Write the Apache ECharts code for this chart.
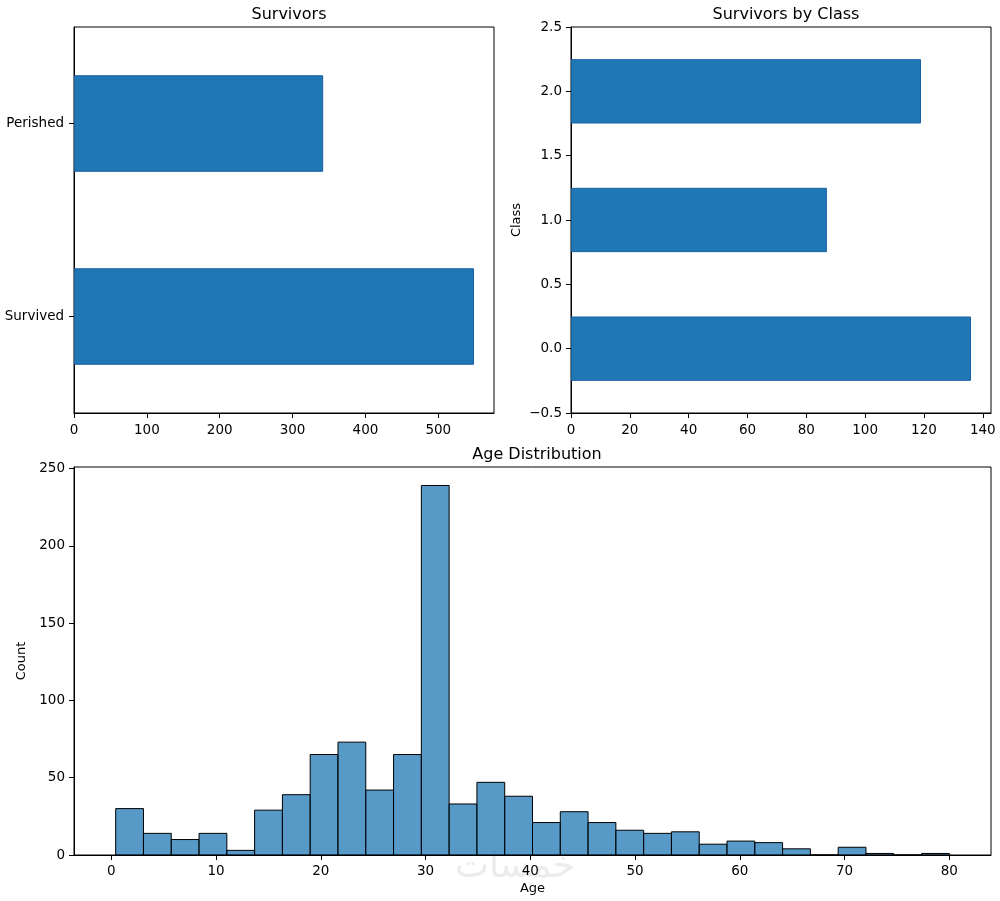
<!DOCTYPE html>
<html>
<head>
<meta charset="utf-8">
<script src="https://cdn.jsdelivr.net/npm/echarts@6/dist/echarts.min.js"></script>
<style>
html,body{margin:0;padding:0;background:#fff;}
#chart{width:1000px;height:901px;}
</style>
</head>
<body>
<div id="chart"></div>
<script>
// ---- data ----
const survivalLabels = ['Survived', 'Perished'];
const survivalCounts = [549, 342];
const classLabels = ['0', '1', '2'];
const classSurvivors = [136, 87, 119];
const ageCounts = [30, 14, 10, 14, 3, 29, 39, 65, 73, 42, 65, 239, 33, 47, 38,
                   21, 28, 21, 16, 14, 15, 7, 9, 8, 4, 0, 5, 1, 0, 1];
const ageMin = 0.42;
const ageMax = 80;
// ---- tick labels ----
const survivalXTicks = [0, 100, 200, 300, 400, 500];
const classXTicks = [0, 20, 40, 60, 80, 100, 120, 140];
const classYTicks = [-0.5, 0, 0.5, 1, 1.5, 2, 2.5];
const ageXTicks = [0, 10, 20, 30, 40, 50, 60, 70, 80];
const countYTicks = [0, 50, 100, 150, 200, 250];

const FONT = 'DejaVu Sans';
const binW = (ageMax - ageMin) / ageCounts.length;
const histData = ageCounts.map((c, i) => [ageMin + i * binW, ageMin + (i + 1) * binW, c]);
const ageSpan = ageMax - ageMin;

const chart = echarts.init(document.getElementById('chart'));
const lbl = {color: '#000', fontFamily: FONT, fontSize: 13.5};
const tick = {show: true, inside: false, length: 5, lineStyle: {color: '#000', width: 1}};
const line = {show: true, onZero: false, lineStyle: {color: '#000', width: 1}};
const fmtNum = v => (v < 0 ? '\u2212' + Math.abs(v) : '' + v);
const gridBase = {show: true, borderColor: '#000', borderWidth: 1, containLabel: false, outerBoundsMode: 'none'};
const nameStyle = {fontFamily: FONT, fontSize: 13, color: '#000'};

const option = {
  animation: false,
  backgroundColor: '#fff',
  textStyle: {fontFamily: FONT},
  title: [
    {text: 'Survivors', left: 284, top: 2, textAlign: 'center', textStyle: {fontFamily: FONT, fontSize: 16, fontWeight: 'normal', color: '#000'}},
    {text: 'Survivors by Class', left: 781, top: 2, textAlign: 'center', textStyle: {fontFamily: FONT, fontSize: 16, fontWeight: 'normal', color: '#000'}},
    {text: 'Age Distribution', left: 532, top: 442, textAlign: 'center', textStyle: {fontFamily: FONT, fontSize: 16, fontWeight: 'normal', color: '#000'}}
  ],
  grid: [
    Object.assign({left: 74, top: 27, width: 420, height: 386}, gridBase),
    Object.assign({left: 571, top: 27, width: 420, height: 386}, gridBase),
    Object.assign({left: 74, top: 467, width: 917, height: 388}, gridBase)
  ],
  xAxis: [
    {gridIndex: 0, type: 'value', position: 'bottom', min: 0, max: Math.max(...survivalCounts) * 1.05,
     axisLine: line, axisTick: Object.assign({customValues: survivalXTicks}, tick),
     axisLabel: Object.assign({customValues: survivalXTicks, margin: 10}, lbl), splitLine: {show: false}},
    {gridIndex: 1, type: 'value', position: 'bottom', min: 0, max: Math.max(...classSurvivors) * 1.05,
     axisLine: line, axisTick: Object.assign({customValues: classXTicks}, tick),
     axisLabel: Object.assign({customValues: classXTicks, margin: 10}, lbl), splitLine: {show: false}},
    {gridIndex: 2, type: 'value', position: 'bottom', min: ageMin - 0.05 * ageSpan, max: ageMax + 0.05 * ageSpan,
     name: 'Age', nameLocation: 'middle', nameGap: 27, nameTextStyle: nameStyle,
     axisLine: line, axisTick: Object.assign({customValues: ageXTicks}, tick),
     axisLabel: Object.assign({customValues: ageXTicks, margin: 9}, lbl), splitLine: {show: false}}
  ],
  yAxis: [
    {gridIndex: 0, type: 'category', position: 'left', data: survivalLabels,
     axisLine: line, axisTick: Object.assign({alignWithLabel: true}, tick),
     axisLabel: Object.assign({margin: 10}, lbl), splitLine: {show: false}},
    {gridIndex: 1, type: 'category', position: 'right', data: classLabels, show: false},
    {gridIndex: 1, type: 'value', position: 'left', min: -0.5, max: 2.5, interval: 0.5,
     name: 'Class', nameLocation: 'middle', nameGap: 48, nameTextStyle: nameStyle,
     axisLine: line, axisTick: Object.assign({customValues: classYTicks}, tick),
     axisLabel: Object.assign({customValues: classYTicks, margin: 9,
       formatter: v => (v < 0 ? '\u2212' : '') + Math.abs(v).toFixed(1)}, lbl), splitLine: {show: false}},
    {gridIndex: 2, type: 'value', position: 'left', min: 0, max: Math.max(...ageCounts) * 1.05,
     name: 'Count', nameLocation: 'middle', nameGap: 42, nameTextStyle: nameStyle,
     axisLine: line, axisTick: Object.assign({customValues: countYTicks}, tick),
     axisLabel: Object.assign({customValues: countYTicks, margin: 9, formatter: fmtNum}, lbl), splitLine: {show: false}}
  ],
  series: [
    {type: 'bar', xAxisIndex: 0, yAxisIndex: 0, data: survivalCounts, barWidth: '50%',
     itemStyle: {color: '#1f77b4', borderColor: '#1a5fa3', borderWidth: 1}},
    {type: 'bar', xAxisIndex: 1, yAxisIndex: 1, data: classSurvivors, barWidth: '50%',
     itemStyle: {color: '#1f77b4', borderColor: '#1a5fa3', borderWidth: 1}},
    {type: 'custom', xAxisIndex: 2, yAxisIndex: 3, data: histData,
     encode: {x: [0, 1], y: 2},
     renderItem: function (params, api) {
       const p0 = api.coord([api.value(0), api.value(2)]);
       const p1 = api.coord([api.value(1), 0]);
       return {type: 'rect',
               shape: {x: p0[0], y: p0[1], width: p1[0] - p0[0], height: p1[1] - p0[1]},
               style: {fill: 'rgba(31,119,180,0.75)', stroke: '#000', lineWidth: 1}};
     }}
  ],
  graphic: [
    {type: 'text', left: 455, top: 850, silent: true, z: -1,
     style: {text: 'خمسات', fontFamily: 'DejaVu Sans', fontSize: 36, fill: '#ececec'}}
  ]
};
chart.setOption(option);
</script>
</body>
</html>
